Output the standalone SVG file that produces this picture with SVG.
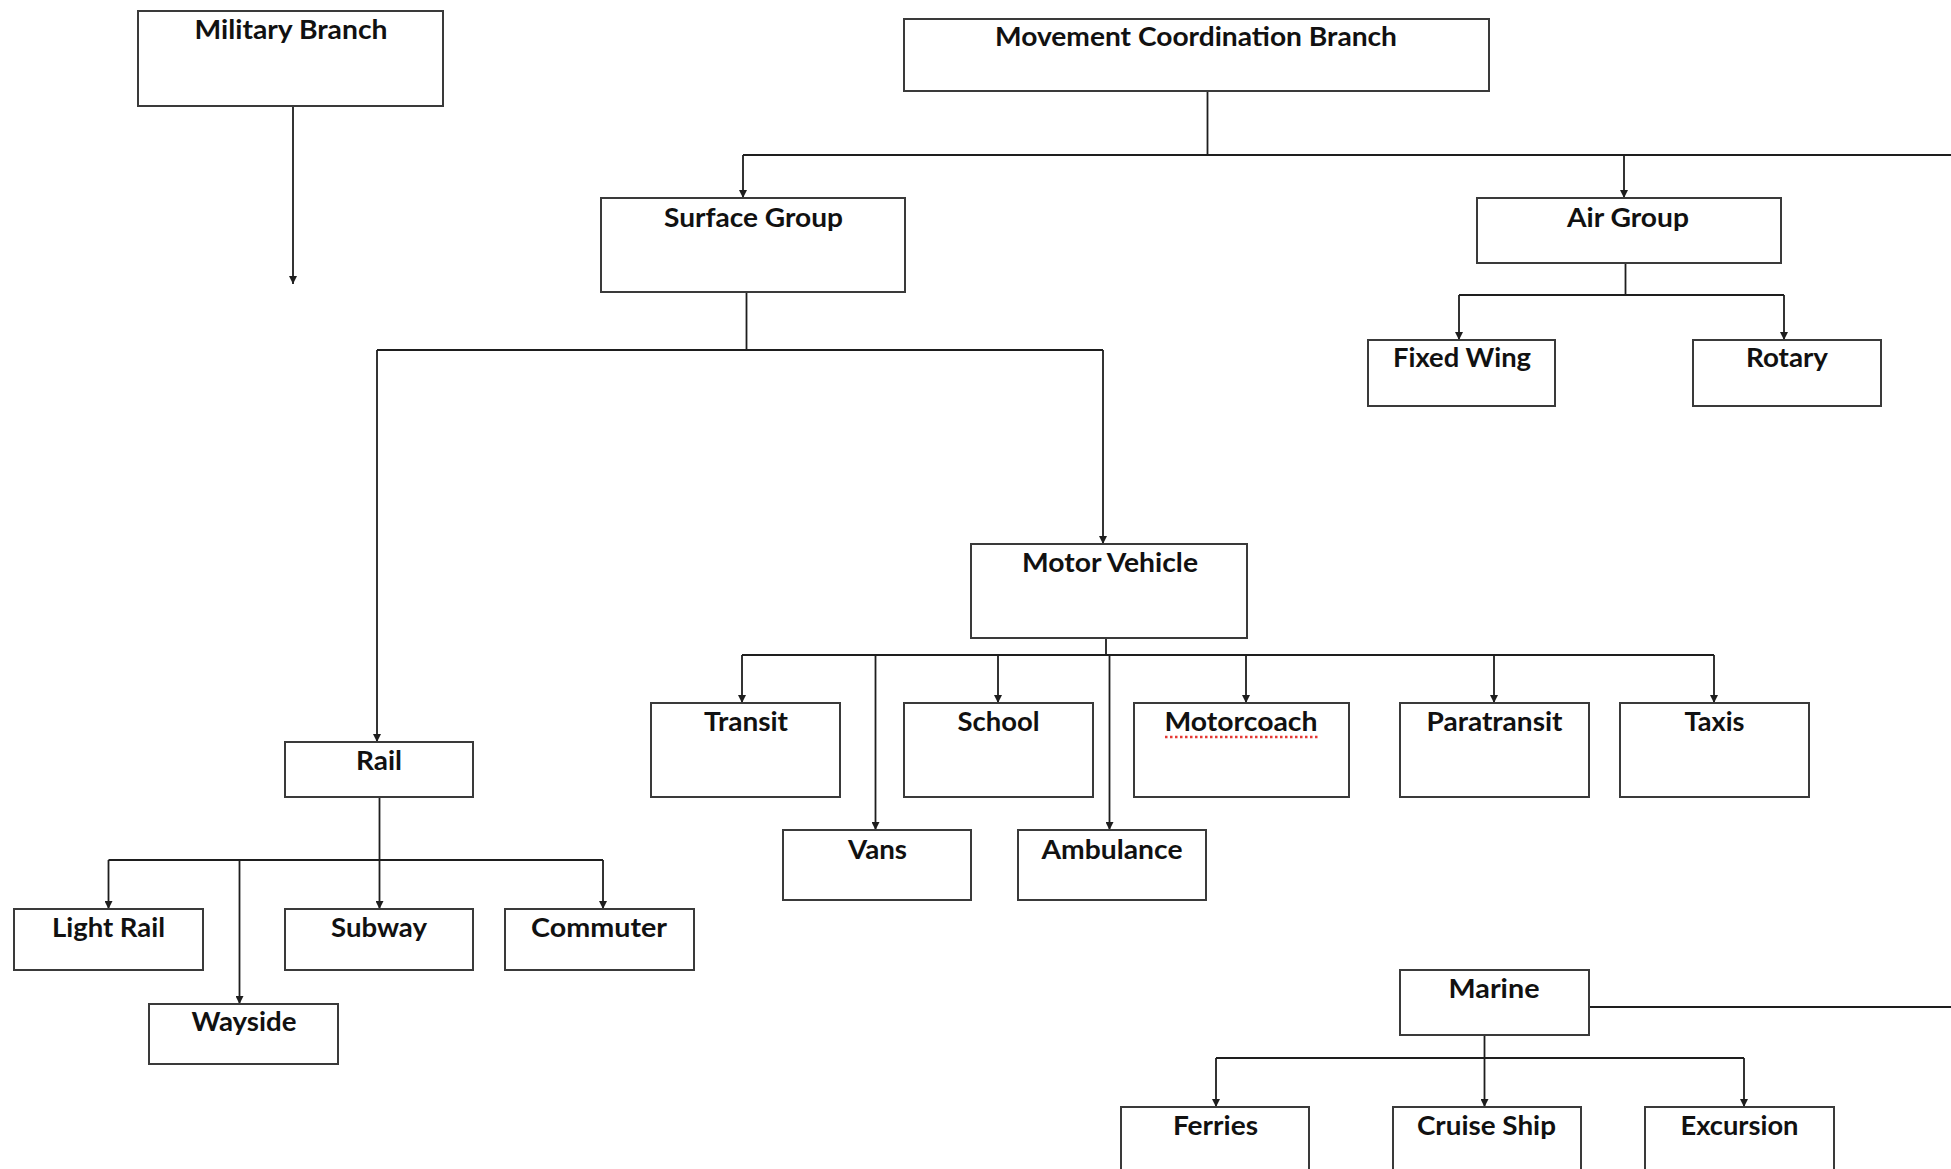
<svg xmlns="http://www.w3.org/2000/svg" width="1951" height="1169" viewBox="0 0 1951 1169">
<style>
.box{fill:#fff;stroke:#3a3a3a;stroke-width:2}
.lbl{font-family:Lato,"Liberation Sans",sans-serif;font-weight:bold;font-size:27px;fill:#111;text-anchor:middle}
.con{fill:none;stroke:#1e1e1e;stroke-width:1.8}
.arr{marker-end:url(#ah)}
</style>
<defs>
<marker id="ah" viewBox="0 0 8 8" refX="8" refY="4" markerWidth="8" markerHeight="8" markerUnits="userSpaceOnUse" orient="auto">
<path d="M0,0 L8,4 L0,8 z" fill="#1e1e1e"/>
</marker>
</defs>
<rect width="1951" height="1169" fill="#fff"/>
<g id="connectors">
<path class="con arr" d="M293,92 V284"/>
<path class="con" d="M1207.5,91 V155"/>
<path class="con" d="M743,155 H1951"/>
<path class="con arr" d="M743,155 V198"/>
<path class="con arr" d="M1624,155 V198"/>
<path class="con" d="M746.5,292 V350"/>
<path class="con" d="M377,350 H1103"/>
<path class="con arr" d="M377,350 V742"/>
<path class="con arr" d="M1103,350 V544"/>
<path class="con" d="M1625.5,263 V295"/>
<path class="con" d="M1459,295 H1784"/>
<path class="con arr" d="M1459,295 V340"/>
<path class="con arr" d="M1784,295 V340"/>
<path class="con" d="M1106,638 V655"/>
<path class="con" d="M742,655 H1714"/>
<path class="con arr" d="M742,655 V703"/>
<path class="con arr" d="M875.5,655 V830"/>
<path class="con arr" d="M998,655 V703"/>
<path class="con arr" d="M1109.5,655 V830"/>
<path class="con arr" d="M1246,655 V703"/>
<path class="con arr" d="M1494,655 V703"/>
<path class="con arr" d="M1714,655 V703"/>
<path class="con arr" d="M379.5,797 V909"/>
<path class="con" d="M108.5,860 H603"/>
<path class="con arr" d="M108.5,860 V909"/>
<path class="con arr" d="M239.5,860 V1004"/>
<path class="con arr" d="M603,860 V909"/>
<path class="con" d="M1589,1007 H1951"/>
<path class="con arr" d="M1484.5,1035 V1107"/>
<path class="con" d="M1216,1058 H1744"/>
<path class="con arr" d="M1216,1058 V1107"/>
<path class="con arr" d="M1744,1058 V1107"/>
</g>
<g id="military"><rect class="box" x="138" y="11" width="305" height="95"/><text class="lbl" x="291" y="39" textLength="193" lengthAdjust="spacingAndGlyphs">Military Branch</text></g>
<g id="movement"><rect class="box" x="904" y="19" width="585" height="72"/><text class="lbl" x="1196" y="46" textLength="402" lengthAdjust="spacingAndGlyphs">Movement Coordination Branch</text></g>
<g id="surface"><rect class="box" x="601" y="198" width="304" height="94"/><text class="lbl" x="753.5" y="227" textLength="179" lengthAdjust="spacingAndGlyphs">Surface Group</text></g>
<g id="air"><rect class="box" x="1477" y="198" width="304" height="65"/><text class="lbl" x="1628" y="227" textLength="122" lengthAdjust="spacingAndGlyphs">Air Group</text></g>
<g id="fixedwing"><rect class="box" x="1368" y="340" width="187" height="66"/><text class="lbl" x="1462" y="367" textLength="138" lengthAdjust="spacingAndGlyphs">Fixed Wing</text></g>
<g id="rotary"><rect class="box" x="1693" y="340" width="188" height="66"/><text class="lbl" x="1787" y="367" textLength="82" lengthAdjust="spacingAndGlyphs">Rotary</text></g>
<g id="motorvehicle"><rect class="box" x="971" y="544" width="276" height="94"/><text class="lbl" x="1110" y="572" textLength="176" lengthAdjust="spacingAndGlyphs">Motor Vehicle</text></g>
<g id="rail"><rect class="box" x="285" y="742" width="188" height="55"/><text class="lbl" x="379" y="770" textLength="46" lengthAdjust="spacingAndGlyphs">Rail</text></g>
<g id="lightrail"><rect class="box" x="14" y="909" width="189" height="61"/><text class="lbl" x="108.5" y="937" textLength="113" lengthAdjust="spacingAndGlyphs">Light Rail</text></g>
<g id="wayside"><rect class="box" x="149" y="1004" width="189" height="60"/><text class="lbl" x="244" y="1031" textLength="105" lengthAdjust="spacingAndGlyphs">Wayside</text></g>
<g id="subway"><rect class="box" x="285" y="909" width="188" height="61"/><text class="lbl" x="379" y="937" textLength="96" lengthAdjust="spacingAndGlyphs">Subway</text></g>
<g id="commuter"><rect class="box" x="505" y="909" width="189" height="61"/><text class="lbl" x="599" y="937" textLength="136" lengthAdjust="spacingAndGlyphs">Commuter</text></g>
<g id="transit"><rect class="box" x="651" y="703" width="189" height="94"/><text class="lbl" x="746" y="731" textLength="84" lengthAdjust="spacingAndGlyphs">Transit</text></g>
<g id="school"><rect class="box" x="904" y="703" width="189" height="94"/><text class="lbl" x="998.5" y="731" textLength="82" lengthAdjust="spacingAndGlyphs">School</text></g>
<g id="motorcoach"><rect class="box" x="1134" y="703" width="215" height="94"/><text class="lbl" x="1241" y="731" textLength="153" lengthAdjust="spacingAndGlyphs">Motorcoach</text><path d="M1165,737 H1318" fill="none" stroke="#e53935" stroke-width="2.5" stroke-dasharray="2.5 2.5"/></g>
<g id="paratransit"><rect class="box" x="1400" y="703" width="189" height="94"/><text class="lbl" x="1494.5" y="731" textLength="136" lengthAdjust="spacingAndGlyphs">Paratransit</text></g>
<g id="taxis"><rect class="box" x="1620" y="703" width="189" height="94"/><text class="lbl" x="1714.5" y="731" textLength="60" lengthAdjust="spacingAndGlyphs">Taxis</text></g>
<g id="vans"><rect class="box" x="783" y="830" width="188" height="70"/><text class="lbl" x="877.5" y="859" textLength="59" lengthAdjust="spacingAndGlyphs">Vans</text></g>
<g id="ambulance"><rect class="box" x="1018" y="830" width="188" height="70"/><text class="lbl" x="1112" y="859" textLength="141" lengthAdjust="spacingAndGlyphs">Ambulance</text></g>
<g id="marine"><rect class="box" x="1400" y="970" width="189" height="65"/><text class="lbl" x="1494" y="998" textLength="91" lengthAdjust="spacingAndGlyphs">Marine</text></g>
<g id="ferries"><rect class="box" x="1121" y="1107" width="188" height="80"/><text class="lbl" x="1215.5" y="1135" textLength="85" lengthAdjust="spacingAndGlyphs">Ferries</text></g>
<g id="cruiseship"><rect class="box" x="1393" y="1107" width="188" height="80"/><text class="lbl" x="1486.5" y="1135" textLength="139" lengthAdjust="spacingAndGlyphs">Cruise Ship</text></g>
<g id="excursion"><rect class="box" x="1645" y="1107" width="189" height="80"/><text class="lbl" x="1739.5" y="1135" textLength="118" lengthAdjust="spacingAndGlyphs">Excursion</text></g>
</svg>
